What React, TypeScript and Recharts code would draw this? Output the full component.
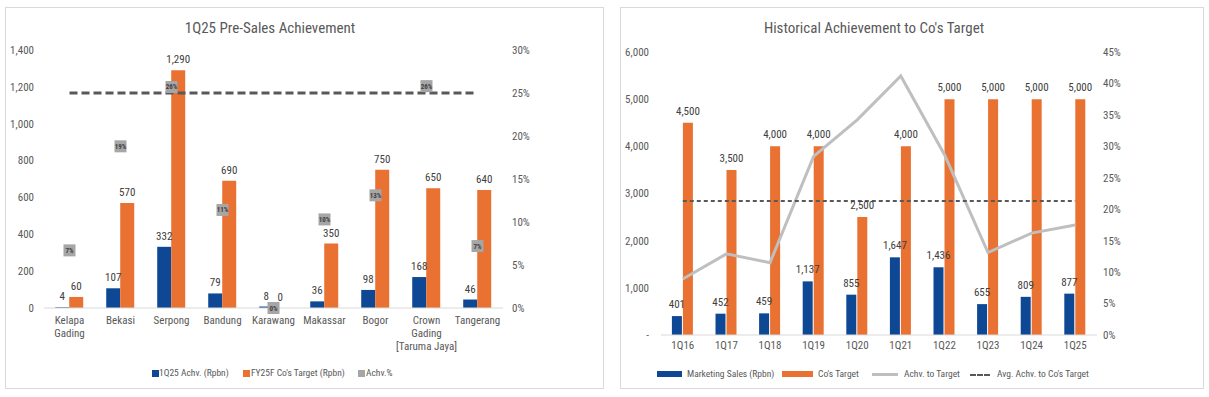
import React from 'react';
import { ComposedChart, Bar, Line, XAxis, YAxis, LabelList } from 'recharts';

// left chart: 1Q25 pre-sales per site
const sites = ['Kelapa\nGading', 'Bekasi', 'Serpong', 'Bandung', 'Karawang', 'Makassar', 'Bogor', 'Crown\nGading\n[Taruma Jaya]', 'Tangerang'];
const achv1Q25 = [4, 107, 332, 79, 8, 36, 98, 168, 46];
const targetFY25 = [60, 570, 1290, 690, 0, 350, 750, 650, 640];
const achvPct = [6.7, 18.8, 25.7, 11.4, 0, 10.3, 13.1, 25.8, 7.2];
const benchPct = [25, 25, 25, 25, 25, 25, 25, 25, 25];
const leftTicks = [0, 200, 400, 600, 800, 1000, 1200, 1400];
const leftPctTicks = [0, 5, 10, 15, 20, 25, 30];

// right chart: historical
const quarters = ['1Q16', '1Q17', '1Q18', '1Q19', '1Q20', '1Q21', '1Q22', '1Q23', '1Q24', '1Q25'];
const marketingSales = [401, 452, 459, 1137, 855, 1647, 1436, 655, 809, 877];
const coTarget = [4500, 3500, 4000, 4000, 2500, 4000, 5000, 5000, 5000, 5000];
const achvToTarget = [8.9, 12.9, 11.5, 28.4, 34.2, 41.2, 28.7, 13.1, 16.2, 17.5];
const avgAchv = [21.3, 21.3, 21.3, 21.3, 21.3, 21.3, 21.3, 21.3, 21.3, 21.3];
const rightTicks = [0, 1000, 2000, 3000, 4000, 5000, 6000];
const rightPctTicks = [0, 5, 10, 15, 20, 25, 30, 35, 40, 45];

const BLUE = '#0e4894';
const ORANGE = '#e97132';
const TXT = '#595959';
const LBL = '#404040';

const leftData = sites.map((s, i) => ({ site: s, achv: achv1Q25[i], target: targetFY25[i], pct: achvPct[i], bench: benchPct[i] }));
const rightData = quarters.map((q, i) => ({ q, sales: marketingSales[i], target: coTarget[i], pct: achvToTarget[i], avg: avgAchv[i] }));

const fmt = (v: any) => Number(v).toLocaleString('en-US');

const renderSiteTick = (props: any) => {
  const { x, y, payload, index } = props;
  const lines = String(payload.value).split('\n');
  return (
    <text key={'t' + index} x={x} y={y} textAnchor="middle" fill={TXT} fontSize={11}>
      {lines.map((l, i) => (
        <tspan key={i} x={x} dy={i === 0 ? '0.71em' : 13}>{l}</tspan>
      ))}
    </text>
  );
};

const renderMarker = (props: any) => {
  const { cx, cy, payload, index } = props;
  if (cx == null || cy == null) return <g key={'m' + index} />;
  return (
    <g key={'m' + index}>
      <rect x={cx - 6} y={cy - 6} width={12} height={12} fill="#a6a6a6" />
      <text x={cx} y={cy + 2.5} textAnchor="middle" fontSize={7} fontWeight={700} fill={LBL}>
        {Math.round(payload.pct)}%
      </text>
    </g>
  );
};

const panel: React.CSSProperties = {
  position: 'absolute', top: 7, height: 382, border: '1px solid #d9d9d9', background: '#fff', boxSizing: 'border-box',
};
const title: React.CSSProperties = {
  position: 'absolute', top: 11, width: 400, textAlign: 'center', fontSize: 15, color: TXT,
};
const leg: React.CSSProperties = { position: 'absolute', fontSize: 9.5, lineHeight: '12px', whiteSpace: 'nowrap' };

export default function App() {
  return (
    <div style={{ position: 'absolute', left: 0, top: 0, width: 1209, height: 397, background: '#fff', fontFamily: '"Liberation Sans Narrow", "Roboto Condensed", Roboto, sans-serif', color: TXT }}>
      {/* left panel */}
      <div style={{ ...panel, left: 5, width: 599 }}>
        <div style={{ ...title, left: 64 }}>1Q25 Pre-Sales Achievement</div>
        <ComposedChart width={597} height={380} data={leftData} margin={{ top: 42, right: 60, bottom: 21, left: 0 }} barCategoryGap="22%" barGap={0}>
          <XAxis dataKey="site" interval={0} tick={renderSiteTick} tickLine={false} tickSize={0} tickMargin={8} height={59} axisLine={{ stroke: '#d9d9d9' }} />
          <YAxis yAxisId="l" domain={[0, 1400]} ticks={leftTicks} tickFormatter={fmt} width={38} axisLine={false} tickLine={false} tickSize={0} tickMargin={10} tick={{ fontSize: 11, fill: TXT }} />
          <YAxis yAxisId="r" orientation="right" domain={[0, 30]} ticks={leftPctTicks} tickFormatter={(v: any) => v + '%'} width={40} axisLine={false} tickLine={false} tickSize={0} tickMargin={9} tick={{ fontSize: 11, fill: TXT, textAnchor: 'start' }} />
          <Bar yAxisId="l" dataKey="achv" fill={BLUE} isAnimationActive={false}>
            <LabelList dataKey="achv" position="top" offset={7} fontSize={11} fill={LBL} formatter={fmt} />
          </Bar>
          <Bar yAxisId="l" dataKey="target" fill={ORANGE} minPointSize={0.01} isAnimationActive={false}>
            <LabelList dataKey="target" position="top" offset={7} fontSize={11} fill={LBL} formatter={fmt} />
          </Bar>
          <Line yAxisId="r" dataKey="bench" stroke="#595959" strokeWidth={3} strokeDasharray="8 4" dot={false} activeDot={false} isAnimationActive={false} />
          <Line yAxisId="r" dataKey="pct" stroke="none" strokeWidth={0} dot={renderMarker} activeDot={false} isAnimationActive={false} />
        </ComposedChart>
        <span style={{ ...leg, left: 146, top: 362, width: 7, height: 7, background: BLUE }} />
        <span style={{ ...leg, left: 153, top: 359 }}>1Q25 Achv. (Rpbn)</span>
        <span style={{ ...leg, left: 237, top: 362, width: 7, height: 7, background: ORANGE }} />
        <span style={{ ...leg, left: 245, top: 359 }}>FY25F Co's Target (Rpbn)</span>
        <span style={{ ...leg, left: 352, top: 362, width: 7, height: 7, background: '#a6a6a6' }} />
        <span style={{ ...leg, left: 360, top: 359 }}>Achv.%</span>
      </div>

      {/* right panel */}
      <div style={{ ...panel, left: 620, width: 584 }}>
        <div style={{ ...title, left: 53 }}>Historical Achievement to Co's Target</div>
        <ComposedChart width={582} height={380} data={rightData} margin={{ top: 44, right: 66, bottom: 27, left: 0 }} barCategoryGap="25%" barGap={1}>
          <XAxis dataKey="q" interval={0} tickLine={false} tickSize={0} tickMargin={6} height={26} axisLine={{ stroke: '#d9d9d9' }} tick={{ fontSize: 11, fill: TXT }} />
          <YAxis yAxisId="l" domain={[0, 6000]} ticks={rightTicks} tickFormatter={(v: any) => (v === 0 ? '-' : fmt(v))} width={40} axisLine={false} tickLine={false} tickSize={0} tickMargin={12} tick={{ fontSize: 11, fill: TXT }} />
          <YAxis yAxisId="r" orientation="right" domain={[0, 45]} ticks={rightPctTicks} tickFormatter={(v: any) => v + '%'} width={40} axisLine={false} tickLine={false} tickSize={0} tickMargin={6} tick={{ fontSize: 11, fill: TXT, textAnchor: 'start' }} />
          <Bar yAxisId="l" dataKey="sales" fill={BLUE} isAnimationActive={false}>
            <LabelList dataKey="sales" position="top" offset={8} fontSize={11} fill={LBL} formatter={fmt} />
          </Bar>
          <Bar yAxisId="l" dataKey="target" fill={ORANGE} isAnimationActive={false}>
            <LabelList dataKey="target" position="top" offset={8} fontSize={11} fill={LBL} formatter={fmt} />
          </Bar>
          <Line yAxisId="r" dataKey="pct" stroke="#bfbfbf" strokeWidth={3} dot={false} activeDot={false} isAnimationActive={false} />
          <Line yAxisId="r" dataKey="avg" stroke="#595959" strokeWidth={2} strokeDasharray="4 3" dot={false} activeDot={false} isAnimationActive={false} />
        </ComposedChart>
        <span style={{ ...leg, left: 36, top: 363, width: 25, height: 6, background: BLUE }} />
        <span style={{ ...leg, left: 66, top: 360 }}>Marketing Sales (Rpbn)</span>
        <span style={{ ...leg, left: 161, top: 363, width: 31, height: 6, background: ORANGE }} />
        <span style={{ ...leg, left: 197, top: 360 }}>Co's Target</span>
        <span style={{ ...leg, left: 251, top: 365, width: 26, height: 3, background: '#bfbfbf' }} />
        <span style={{ ...leg, left: 283, top: 360 }}>Achv. to Target</span>
        <span style={{ ...leg, left: 349, top: 366, width: 20, height: 0, borderTop: '2px dashed #595959' }} />
        <span style={{ ...leg, left: 376, top: 360 }}>Avg. Achv. to Co's Target</span>
      </div>
    </div>
  );
}
